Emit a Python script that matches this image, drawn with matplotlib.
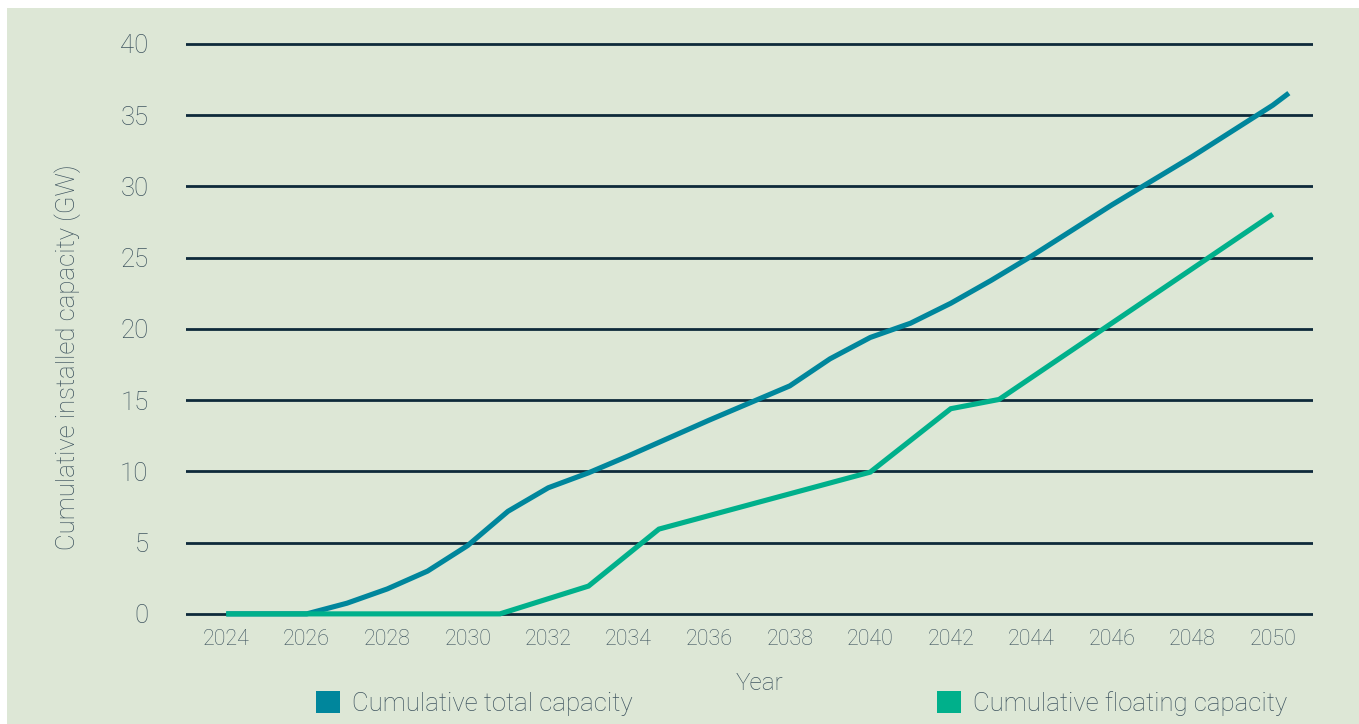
import matplotlib
matplotlib.use("Agg")
import matplotlib.pyplot as plt
from matplotlib.patches import Rectangle, Patch

# ---- data ----
total_years = [2024, 2025, 2026, 2027, 2028, 2029, 2030, 2031, 2032, 2033, 2034, 2035,
               2036, 2037, 2038, 2039, 2040, 2041, 2042, 2043, 2044, 2045, 2046, 2047,
               2048, 2049, 2050, 2050.4]
total_values = [0, 0, 0, 0.75, 1.75, 3.0, 4.8, 7.2, 8.85, 9.9, 11.1, 12.35,
                13.6, 14.8, 16.0, 17.9, 19.4, 20.4, 21.8, 23.4, 25.1, 26.9, 28.7, 30.4,
                32.1, 33.9, 35.7, 36.55]

float_years = [2024, 2030.8, 2033, 2034.75, 2040, 2042, 2043.2, 2050]
float_values = [0, 0, 1.95, 5.95, 9.95, 14.4, 15.05, 28.05]

y_ticks = [0, 5, 10, 15, 20, 25, 30, 35, 40]
x_ticks = list(range(2024, 2051, 2))

series_labels = ["Cumulative total capacity", "Cumulative floating capacity"]

# ---- style ----
BG = "#dde7d6"
GRID = "#0e2a3a"
TXT = "#3f5560"
C_TOTAL = "#00869c"
C_FLOAT = "#00b08b"
FONT = ["Roboto", "DejaVu Sans"]
FW = "light"

plt.rcParams["font.family"] = FONT

W, H = 1359, 724
fig = plt.figure(figsize=(W / 100, H / 100), dpi=100)
fig.patch.set_facecolor("white")
fig.patches.append(Rectangle((7 / W, 0), 1 - 7 / W, 1 - 8 / H, transform=fig.transFigure,
                             facecolor=BG, edgecolor="none", zorder=-10))

ax = fig.add_axes([186 / W, (H - 621.0) / H, (1313 - 186) / W, (621.0 - 39.7) / H])
ax.set_facecolor("none")
ax.set_xlim(2023, 2051)
ax.set_ylim(-0.5, 40.3)

for v in y_ticks:
    ax.axhline(v, color=GRID, lw=2.0, zorder=1)

ax.plot(total_years, total_values, color=C_TOTAL, lw=3.7, solid_joinstyle="round",
        solid_capstyle="butt", zorder=3)
ax.plot(float_years, float_values, color=C_FLOAT, lw=3.7, solid_joinstyle="miter",
        solid_capstyle="butt", zorder=4)

for s in ax.spines.values():
    s.set_visible(False)

ax.set_yticks(y_ticks)
ax.set_yticklabels([str(v) for v in y_ticks], fontsize=18.5, color=TXT, fontweight=FW)
ax.set_xticks(x_ticks)
ax.set_xticklabels([str(v) for v in x_ticks], fontsize=15.5, color=TXT, fontweight=FW)
ax.tick_params(axis="y", length=0, pad=27)
ax.tick_params(axis="x", length=0, pad=6)

fig.text(760 / W, (H - 684) / H, "Year", ha="center", va="center", fontsize=17.5,
         color=TXT, fontweight=FW)
fig.text(68 / W, (H - 357) / H, "Cumulative installed capacity (GW)", ha="center",
         va="center", rotation=90, fontsize=18.5, color=TXT, fontweight=FW)

leg_y = (H - 703.5) / H
for x0, lab, col in [(316, series_labels[0], C_TOTAL), (937, series_labels[1], C_FLOAT)]:
    lg = fig.legend(handles=[Patch(facecolor=col, edgecolor="none", label=lab)],
                    loc="center left", bbox_to_anchor=(x0 / W, leg_y), frameon=False,
                    borderpad=0, borderaxespad=0, handlelength=0.95, handleheight=0.95,
                    handletextpad=0.45,
                    prop={"family": FONT, "size": 18.5, "weight": FW})
    for t in lg.get_texts():
        t.set_color(TXT)

fig.savefig("out.png", dpi=100, facecolor=fig.get_facecolor())
